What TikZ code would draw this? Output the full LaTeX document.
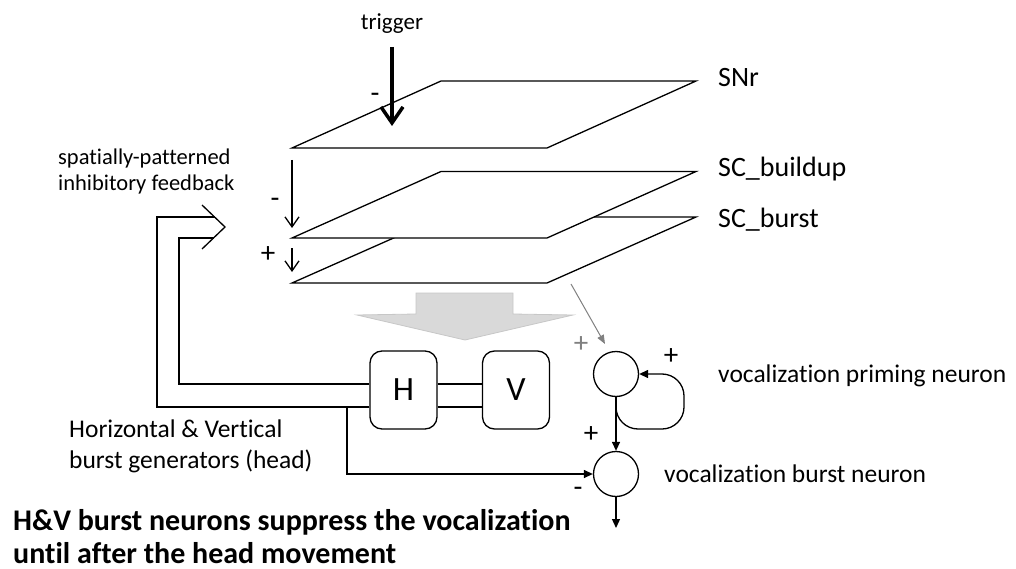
\documentclass[tikz,border=0pt]{standalone}
\usepackage{fontspec}
\setmainfont{Carlito}[RawFeature={-liga}]
\usetikzlibrary{arrows.meta}
\begin{document}
\begin{tikzpicture}[x=1pt,y=-1pt,
  line/.style={line width=1.3pt},
  plane/.style={line width=1.3pt, fill=white, line join=miter},
  lbl/.style={font=\fontsize{25.5}{30}\selectfont, inner sep=0pt, anchor=base west},
  layerlbl/.style={font=\fontsize{28}{32}\selectfont, inner sep=0pt, anchor=base west},
  sign/.style={font=\fontsize{29}{32}\selectfont, inner sep=0pt},
  neuron/.style={circle, draw, line width=1.3pt, minimum size=45pt, inner sep=0pt},
  genbox/.style={draw, line width=1.3pt, rounded corners=12pt, minimum width=67pt, minimum height=78pt, inner sep=0pt, font=\fontsize{34}{40}\selectfont},
  barb/.style={-{Straight Barb[length=10pt,width=14pt]}},
  tri/.style={-{Triangle[length=9pt,width=8pt]}}
]
\useasboundingbox (0,0) rectangle (1016,569);

% layers
\draw[plane] (292,283) -- (547,283) -- (696,217) -- (441,217) -- cycle;
\draw[plane] (292,238) -- (547,238) -- (696,171.5) -- (441,171.5) -- cycle;
\draw[plane] (292,148) -- (547,148) -- (696,81) -- (441,81) -- cycle;
\node[layerlbl] (snr) at (718,87) {SNr};
\node[layerlbl] (scb) at (718,177) {SC\_buildup};
\node[layerlbl] (scs) at (718,227) {SC\_burst};

% trigger
\node[font=\fontsize{23}{28}\selectfont, inner sep=0pt, anchor=base] (trig) at (392,30) {trigger};
\coordinate (trigtip) at (392,126);
\draw[line width=4pt, -{Straight Barb[length=16pt,width=22pt,line width=3.5pt]}] (392,47) -- (trigtip);
\node[sign] (m1) at (375,98) {-};

% inter-layer arrows
\coordinate (a1s) at (292,160); \coordinate (a1e) at (292,228);
\draw[line, barb] (a1s) -- (a1e);
\node[sign] (m2) at (275,203) {-};
\coordinate (a2s) at (292,248); \coordinate (a2e) at (292,272);
\draw[line, barb] (a2s) -- (a2e);
\node[sign] (p2) at (268,255) {+};

% big gray arrow
\draw[fill=black!15, draw=black!22, line width=0.8pt] (416,293) -- (513,293) -- (513,314) -- (573,315) -- (465,340) -- (357,315) -- (416,314) -- cycle;

% H and V boxes
\node[genbox] (H) at (403.5,390) {H};
\node[genbox] (V) at (516,390) {V};
\draw[line] ([yshift=6pt]H.east) -- ([yshift=6pt]V.west);
\draw[line] ([yshift=-17pt]H.east) -- ([yshift=-17pt]V.west);

% feedback double arrow
\coordinate (fbtip) at (225,227);
\draw[line] ([yshift=-17pt]H.west) -- (157,407) -- (157,217) -- (214.5,217);
\draw[line] ([yshift=6pt]H.west) -- (179,384) -- (179,238) -- (213.5,238);
\draw[line] (202,205) -- (fbtip) -- (202,249);
\node[font=\fontsize{22.5}{26}\selectfont, inner sep=0pt, anchor=base west] (fb1) at (58,165) {spatially-patterned};
\node[font=\fontsize{22.5}{26}\selectfont, inner sep=0pt, anchor=base west] (fb2) at (58,191) {inhibitory feedback};

% neurons
\node[neuron] (pn) at (616,374) {};
\node[neuron] (bn) at (616,474) {};
\node[lbl] (pnl) at (718,382) {vocalization priming neuron};
\node[lbl] (bnl) at (664,482) {vocalization burst neuron};

\coordinate (gs) at (571,284);
\coordinate (ge) at (605,344);
\draw[line width=1pt, draw=black!50, -{Triangle[length=9pt,width=7pt]}] (gs) -- (ge);
\node[sign, text=black!50] (gp) at (581,345) {+};

\draw[line, tri, rounded corners=22pt] (pn.south) |- (684,429) |- (pn.east);
\node[sign] (lp) at (671,357) {+};
\draw[line, tri] (pn.south) -- (bn.north);
\node[sign] (pp) at (591,435) {+};

\coordinate (hvturn) at (347,407);
\draw[line, tri] (hvturn) |- (bn.west);
\node[sign] (mm) at (578,492) {-};

\coordinate (outend) at (616,528);
\draw[line, tri] (bn.south) -- (outend);

\node[lbl] (hv1) at (69,437) {Horizontal \& Vertical};
\node[lbl] (hv2) at (69,468) {burst generators (head)};

\node[font=\bfseries\fontsize{30}{34}\selectfont, inner sep=0pt, anchor=base west] (cap1) at (13,530) {H\&V burst neurons suppress the vocalization};
\node[font=\bfseries\fontsize{30}{34}\selectfont, inner sep=0pt, anchor=base west] (cap2) at (13,563) {until after the head movement};
\end{tikzpicture}
\end{document}
